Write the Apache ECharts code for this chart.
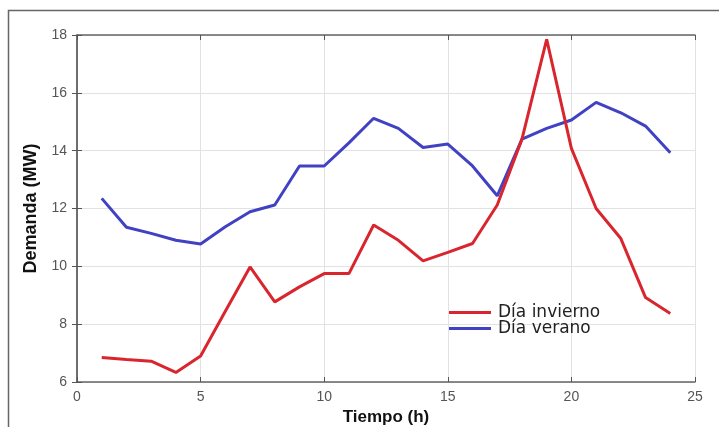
<!DOCTYPE html>
<html><head><meta charset="utf-8">
<script src="https://cdn.jsdelivr.net/npm/echarts@6/dist/echarts.min.js"></script>
<style>html,body{margin:0;padding:0;background:#fff}#c{width:719px;height:427px}</style>
</head><body><div id="c"></div>
<script>
const hours = [1,2,3,4,5,6,7,8,9,10,11,12,13,14,15,16,17,18,19,20,21,22,23,24];
const invierno = [6.85,6.78,6.72,6.33,6.9,8.45,9.98,8.77,9.29,9.75,9.75,11.43,10.9,10.19,10.48,10.79,12.12,14.4,17.85,14.08,12.0,10.96,8.92,8.37];
const verano = [12.35,11.35,11.14,10.9,10.77,11.37,11.89,12.12,13.47,13.47,14.27,15.12,14.77,14.11,14.23,13.47,12.44,14.4,14.77,15.06,15.67,15.31,14.85,13.93];
const seriesNames = ['Día invierno','Día verano'];
const xTitle = 'Tiempo (h)';
const yTitle = 'Demanda (MW)';

const chart = echarts.init(document.getElementById('c'));
const labelStyle = {color:'#555', fontSize:14, fontFamily:'Liberation Sans, Arial, sans-serif'};
const tickStyle = {show:true, inside:true, length:5, lineStyle:{color:'#555', width:1}};
chart.setOption({
  animation:false,
  backgroundColor:'#fff',
  graphic:[{type:'polyline', shape:{points:[[8.5,427],[8.5,10.5],[719,10.5]]}, style:{stroke:'#666', lineWidth:1.5, fill:null}, silent:true}],
  grid:{left:77, right:24, top:35, bottom:45, containLabel:false, outerBoundsMode:'none'},
  legend:{orient:'vertical', left:444, top:299, itemWidth:42, itemHeight:3, itemGap:-1, icon:'rect',
    textStyle:{fontSize:17, color:'#222', fontFamily:'DejaVu Sans, sans-serif', padding:[0,0,0,2]},
    data:seriesNames},
  xAxis:[{type:'value', min:0, max:25, interval:5, position:'bottom',
    name:xTitle, nameLocation:'middle', nameGap:20,
    nameTextStyle:{fontSize:17, fontWeight:'bold', color:'#111', fontFamily:'Liberation Sans, Arial, sans-serif'},
    axisLine:{show:true, lineStyle:{color:'#666', width:1.5}}, axisTick:tickStyle,
    axisLabel:Object.assign({margin:8}, labelStyle),
    splitLine:{show:true, lineStyle:{color:'#e2e2e2', width:1}}},
   {type:'value', min:0, max:25, interval:5, position:'top',
    axisLine:{show:true, lineStyle:{color:'#666', width:1.5}}, axisTick:tickStyle,
    axisLabel:{show:false}, splitLine:{show:false}}],
  yAxis:[{type:'value', min:6, max:18, interval:2, position:'left',
    name:yTitle, nameLocation:'middle', nameGap:33,
    nameTextStyle:{fontSize:18, fontWeight:'bold', color:'#111', fontFamily:'Liberation Sans, Arial, sans-serif'},
    axisLine:{show:true, lineStyle:{color:'#666', width:1.5}}, axisTick:tickStyle,
    axisLabel:Object.assign({margin:10}, labelStyle),
    splitLine:{show:true, lineStyle:{color:'#e2e2e2', width:1}}},
   {type:'value', min:6, max:18, interval:2, position:'right',
    axisLine:{show:true, lineStyle:{color:'#666', width:1.5}}, axisTick:tickStyle,
    axisLabel:{show:false}, splitLine:{show:false}}],
  series:[
    {name:seriesNames[0], type:'line', data:hours.map((h,i)=>[h,invierno[i]]), showSymbol:false, symbol:'none',
     itemStyle:{color:'#d9262e'}, lineStyle:{width:3, color:'#d9262e'}, z:3},
    {name:seriesNames[1], type:'line', data:hours.map((h,i)=>[h,verano[i]]), showSymbol:false, symbol:'none',
     itemStyle:{color:'#4141c4'}, lineStyle:{width:3, color:'#4141c4'}, z:2}
  ]
});
</script></body></html>
